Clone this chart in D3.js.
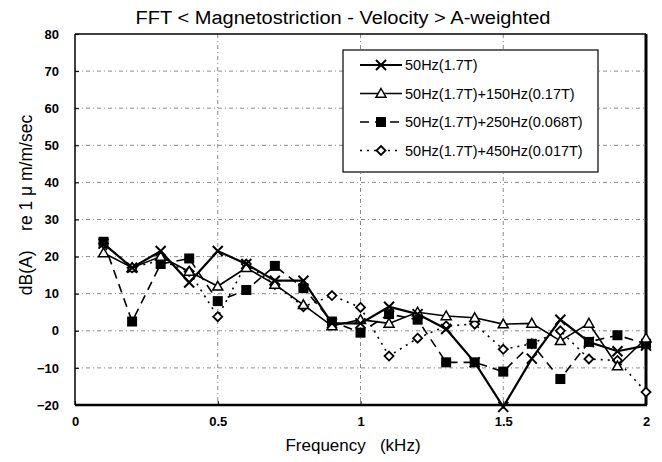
<!DOCTYPE html>
<html>
<head>
<meta charset="utf-8">
<script src="https://cdn.jsdelivr.net/npm/d3@7"></script>
<style>
  html, body { margin: 0; padding: 0; background: #fff; }
  svg { display: block; }
</style>
</head>
<body>
<svg id="chart" width="662" height="462"></svg>
<script>
// Frequency points (kHz)
const freqs = [0.1, 0.2, 0.3, 0.4, 0.5, 0.6, 0.7, 0.8, 0.9, 1.0,
               1.1, 1.2, 1.3, 1.4, 1.5, 1.6, 1.7, 1.8, 1.9, 2.0];

// Velocity level dB(A) for each excitation condition
const s50 = [23.5, 17, 21.5, 13, 21.5, 18, 13.5, 13.5, 2, 2,
             6.5, 4.5, 0.5, -8.5, -20.5, -7.5, 3, -3, -5.5, -4];
const s50_150 = [21, 17, 20, 16, 12, 17, 12.5, 7, 1.3, 3,
                 2, 5, 4, 3.5, 1.8, 2, -2.7, 2, -9.5, -2];
const s50_250 = [24, 2.5, 18, 19.5, 8, 11, 17.5, 11.5, 2.5, -0.5,
                 4.5, 3, -8.5, -8.5, -11, -3.5, -13, -3, -1.2, -3.5];
const s50_450 = [23.5, 17, 19, 16, 3.8, 18, 12.5, 6.5, 9.5, 6.3,
                 -6.8, -2, 1.3, 1.8, -5, -3.5, 0, -7.6, -8, -16.5];

const seriesNames = ["50Hz(1.7T)", "50Hz(1.7T)+150Hz(0.17T)",
                     "50Hz(1.7T)+250Hz(0.068T)", "50Hz(1.7T)+450Hz(0.017T)"];
const xTicks = [0, 0.5, 1, 1.5, 2];
const xTickLabels = ["0", "0.5", "1", "1.5", "2"];
const yTicks = [-20, -10, 0, 10, 20, 30, 40, 50, 60, 70, 80];

const svg = d3.select("#chart");
const plotL = 75, plotR = 646, plotT = 34, plotB = 405;

const x = d3.scaleLinear().domain([0, 2]).range([plotL, plotR]);
const y = d3.scaleLinear().domain([-20, 80]).range([plotB, plotT]);

const font = "'Liberation Sans', Arial, sans-serif";

// Grid
const grid = svg.append("g");
grid.selectAll("line.h").data(yTicks.filter(d => d > -20 && d < 80)).join("line")
  .attr("x1", plotL).attr("x2", plotR)
  .attr("y1", d => y(d)).attr("y2", d => y(d))
  .attr("stroke", "#8a8a8a").attr("stroke-width", 1)
  .attr("stroke-dasharray", "4,3,1,3");
grid.selectAll("line.v").data(xTicks.filter(d => d > 0 && d < 2)).join("line")
  .attr("x1", d => x(d)).attr("x2", d => x(d))
  .attr("y1", plotT).attr("y2", plotB)
  .attr("stroke", "#8a8a8a").attr("stroke-width", 1)
  .attr("stroke-dasharray", "4,3,1,3");

// Axes
const yAxis = d3.axisLeft(y).tickValues(yTicks).tickSize(-4).tickPadding(16);
const gy = svg.append("g").attr("transform", `translate(${plotL},0)`).call(yAxis);
gy.select(".domain").remove();
gy.selectAll(".tick line").attr("stroke", "#000");
gy.selectAll("text").attr("font-family", font).attr("font-size", 13)
  .attr("font-weight", "bold").attr("fill", "#000");

const xAxis = d3.axisBottom(x).tickValues(xTicks).tickFormat((d, i) => xTickLabels[i])
  .tickSize(-4).tickPadding(12);
const gx = svg.append("g").attr("transform", `translate(0,${plotB})`).call(xAxis);
gx.select(".domain").remove();
gx.selectAll(".tick line").attr("stroke", "#000");
gx.selectAll("text").attr("font-family", font).attr("font-size", 13)
  .attr("font-weight", "bold").attr("fill", "#000");

// Plot frame
svg.append("line").attr("x1", plotL).attr("x2", plotR).attr("y1", plotT).attr("y2", plotT)
  .attr("stroke", "#000").attr("stroke-width", 1.5);
svg.append("line").attr("x1", plotL).attr("x2", plotL).attr("y1", plotT).attr("y2", plotB)
  .attr("stroke", "#000").attr("stroke-width", 1.5);
svg.append("line").attr("x1", plotL).attr("x2", plotR + 1).attr("y1", plotB).attr("y2", plotB)
  .attr("stroke", "#000").attr("stroke-width", 2.5);
svg.append("line").attr("x1", plotR).attr("x2", plotR).attr("y1", plotT).attr("y2", plotB)
  .attr("stroke", "#000").attr("stroke-width", 3);

// Marker drawers
function drawMarker(g, type, cx, cy) {
  if (type === "x") {
    const s = 5;
    g.append("path").attr("d", `M${cx - s},${cy - s}L${cx + s},${cy + s}M${cx - s},${cy + s}L${cx + s},${cy - s}`)
      .attr("stroke", "#000").attr("stroke-width", 2).attr("fill", "none");
  } else if (type === "tri") {
    const s = 5;
    g.append("path").attr("d", `M${cx},${cy - s}L${cx + s},${cy + s * 0.75}L${cx - s},${cy + s * 0.75}Z`)
      .attr("stroke", "#000").attr("stroke-width", 1.5).attr("fill", "#fff");
  } else if (type === "sq") {
    const s = 5;
    g.append("rect").attr("x", cx - s).attr("y", cy - s).attr("width", 2 * s).attr("height", 2 * s)
      .attr("fill", "#000");
  } else if (type === "dia") {
    const s = 4.5;
    g.append("path").attr("d", `M${cx},${cy - s}L${cx + s},${cy}L${cx},${cy + s}L${cx - s},${cy}Z`)
      .attr("stroke", "#000").attr("stroke-width", 1.8).attr("fill", "#fff");
  }
}

const series = [
  { name: seriesNames[0], values: s50, marker: "x", width: 2.2, dash: null },
  { name: seriesNames[1], values: s50_150, marker: "tri", width: 1.6, dash: null },
  { name: seriesNames[2], values: s50_250, marker: "sq", width: 1.6, dash: "9,6" },
  { name: seriesNames[3], values: s50_450, marker: "dia", width: 1.6, dash: "2,5" }
];

const line = d3.line().x(d => x(d[0])).y(d => y(d[1]));

const plot = svg.append("g");
// draw in back-to-front order
[3, 2, 1, 0].forEach(i => {
  const s = series[i];
  const pts = freqs.map((f, k) => [f, s.values[k]]);
  plot.append("path").attr("d", line(pts)).attr("fill", "none")
    .attr("stroke", "#000").attr("stroke-width", s.width)
    .attr("stroke-dasharray", s.dash);
  const mg = plot.append("g");
  pts.forEach(p => drawMarker(mg, s.marker, x(p[0]), y(p[1])));
});

// Legend
const lg = svg.append("g");
lg.append("rect").attr("x", 343).attr("y", 50).attr("width", 255).attr("height", 122)
  .attr("fill", "#fff").attr("stroke", "#000").attr("stroke-width", 1.2);
series.forEach((s, i) => {
  const cy = 65 + i * 28.5;
  lg.append("line").attr("x1", 360).attr("x2", 402).attr("y1", cy).attr("y2", cy)
    .attr("stroke", "#000").attr("stroke-width", s.width).attr("stroke-dasharray", s.dash);
  drawMarker(lg, s.marker, 381, cy);
  lg.append("text").attr("x", 405).attr("y", cy + 5).text(s.name)
    .attr("font-family", font).attr("font-size", 14.5).attr("fill", "#000");
});

// Title and axis titles
svg.append("text").attr("x", 343).attr("y", 24).attr("text-anchor", "middle")
  .attr("font-family", font).attr("font-size", 18).attr("fill", "#000")
  .attr("textLength", 415).attr("lengthAdjust", "spacingAndGlyphs")
  .text("FFT < Magnetostriction - Velocity > A-weighted");

svg.append("text").attr("x", 353).attr("y", 451).attr("text-anchor", "middle")
  .attr("font-family", font).attr("font-size", 17).attr("fill", "#000")
  .attr("xml:space", "preserve")
  .text("Frequency   (kHz)");

svg.append("text").attr("transform", "translate(32,205) rotate(-90)")
  .attr("text-anchor", "middle")
  .attr("font-family", font).attr("font-size", 17.5).attr("fill", "#000")
  .attr("xml:space", "preserve")
  .text("dB(A)    re 1 μ m/m/sec");
</script>
</body>
</html>
